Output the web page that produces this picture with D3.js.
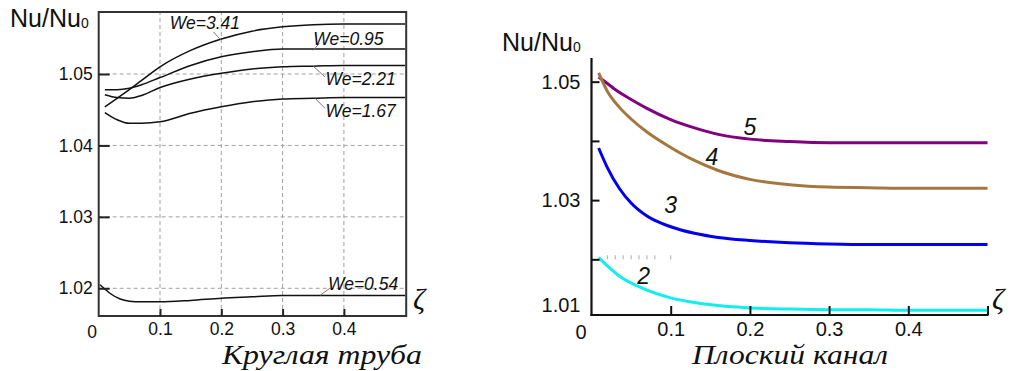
<!DOCTYPE html>
<html>
<head>
<meta charset="utf-8">
<script src="https://cdn.jsdelivr.net/npm/d3@7"></script>
<style>
  html, body { margin: 0; padding: 0; background: #fff; }
  svg { display: block; font-family: "Liberation Sans", Arial, sans-serif; }
</style>
</head>
<body>
<svg id="chart" width="1011" height="371"></svg>
<script>
// ---------- DATA ----------
// Left panel: "Круглая труба"
const leftZeta = [0.01, 0.03, 0.05, 0.07, 0.1, 0.15, 0.2, 0.25, 0.3, 0.35, 0.4, 0.5];
const we341 = [1.0454, 1.0466, 1.0478, 1.0491, 1.0510, 1.0533, 1.0549, 1.0560, 1.0566, 1.0569, 1.0570, 1.0570];
const we095 = [1.0478, 1.0478, 1.0480, 1.0485, 1.0495, 1.0512, 1.0524, 1.0531, 1.0535, 1.0535, 1.0535, 1.0535];
const we221 = [1.0471, 1.0467, 1.0466, 1.0470, 1.0481, 1.0493, 1.0501, 1.0507, 1.0510, 1.0511, 1.0512, 1.0512];
const we167 = [1.0446, 1.0436, 1.0431, 1.0431, 1.0433, 1.0445, 1.0454, 1.0461, 1.0465, 1.0466, 1.0467, 1.0467];
const we054Zeta = [0.002, 0.01, 0.02, 0.035, 0.05, 0.07, 0.1, 0.15, 0.2, 0.25, 0.3, 0.4, 0.5];
const we054 = [1.0205, 1.0199, 1.0192, 1.0185, 1.0182, 1.0181, 1.0181, 1.0183, 1.0186, 1.0188, 1.0190, 1.0190, 1.0190];
const leftYTicks = [1.02, 1.03, 1.04, 1.05];
const leftXTicks = [0, 0.1, 0.2, 0.3, 0.4];
const leftLabels = ["We=3.41", "We=0.95", "We=2.21", "We=1.67", "We=0.54"];

// Right panel: "Плоский канал"
const rightZeta = [0.009, 0.02, 0.035, 0.05, 0.07, 0.1, 0.13, 0.16, 0.2, 0.25, 0.3, 0.35, 0.4, 0.5];
const curve5 = [1.0508, 1.0497, 1.0482, 1.0470, 1.0455, 1.0436, 1.0422, 1.0411, 1.0403, 1.0399, 1.0397, 1.0397, 1.0397, 1.0397];
const curve4 = [1.0515, 1.0484, 1.0457, 1.0437, 1.0415, 1.0389, 1.0367, 1.0350, 1.0335, 1.0326, 1.0322, 1.0321, 1.0320, 1.0320];
const curve3 = [1.0388, 1.0355, 1.0320, 1.0295, 1.0273, 1.0255, 1.0244, 1.0237, 1.0232, 1.0228, 1.0226, 1.0225, 1.0225, 1.0225];
const curve2 = [1.0203, 1.0189, 1.0172, 1.0160, 1.0148, 1.0135, 1.0127, 1.0122, 1.0118, 1.0116, 1.0115, 1.0115, 1.0114, 1.0114];
const rightLabels = ["5", "4", "3", "2"];
const rightYTicks = [1.01, 1.02, 1.03, 1.04, 1.05];
const rightYTickLabels = ["1.01", "", "1.03", "", "1.05"];
const rightXTicks = [0, 0.1, 0.2, 0.3, 0.4, 0.5];
const rightXTickLabels = ["0", "0.1", "0.2", "0.3", "0.4", ""];
const minorZeta = [0.02, 0.03, 0.04, 0.05, 0.06, 0.07, 0.08, 0.1];

const SERIF = "'Liberation Serif', 'Times New Roman', serif";
const SANS = "'Liberation Sans', Arial, sans-serif";

// ---------- SCALES ----------
const svg = d3.select("#chart");
svg.append("rect").attr("width", 1011).attr("height", 371).attr("fill", "#fff");

const xL = d3.scaleLinear().domain([0, 0.5]).range([98.7, 405.2]);
const yL = d3.scaleLinear().domain([1.01612, 1.05868]).range([316, 12]);
const xR = d3.scaleLinear().domain([0, 0.5]).range([591.5, 987.5]);
const yR = d3.scaleLinear().domain([1.0106, 1.054]).range([315, 58]);

// ---------- LEFT PANEL ----------
const gL = svg.append("g");
gL.selectAll("line.vg").data([0.1, 0.2, 0.3, 0.4]).enter().append("line")
  .attr("x1", d => xL(d)).attr("x2", d => xL(d))
  .attr("y1", yL.range()[0]).attr("y2", yL.range()[1])
  .attr("stroke", "#a0a0a0").attr("stroke-width", 1).attr("stroke-dasharray", "4,3");
gL.selectAll("line.hg").data(leftYTicks).enter().append("line")
  .attr("x1", xL.range()[0]).attr("x2", xL.range()[1])
  .attr("y1", d => yL(d)).attr("y2", d => yL(d))
  .attr("stroke", "#a0a0a0").attr("stroke-width", 1).attr("stroke-dasharray", "4,3");

const lineL = (xs, ys) => d3.line().curve(d3.curveMonotoneX)
  .x((d, i) => xL(xs[i])).y(d => yL(d))(ys);
[we341, we095, we221, we167].forEach(s => {
  gL.append("path").attr("d", lineL(leftZeta, s)).attr("fill", "none")
    .attr("stroke", "#111").attr("stroke-width", 1.5);
});
gL.append("path").attr("d", lineL(we054Zeta, we054)).attr("fill", "none")
  .attr("stroke", "#111").attr("stroke-width", 1.5);

gL.append("rect").attr("x", xL.range()[0]).attr("y", yL.range()[1])
  .attr("width", xL.range()[1] - xL.range()[0] + 1).attr("height", yL.range()[0] - yL.range()[1])
  .attr("fill", "none").attr("stroke", "#333").attr("stroke-width", 2);

const axL = gL.append("g").attr("transform", `translate(${xL.range()[0]},0)`)
  .call(d3.axisLeft(yL).tickValues(leftYTicks).tickFormat(d3.format(".2f")).tickSize(-11).tickPadding(6));
const axB = gL.append("g").attr("transform", `translate(0,${yL.range()[0]})`)
  .call(d3.axisBottom(xL).tickValues(leftXTicks).tickFormat(d => d === 0 ? "0" : d3.format(".1f")(d)).tickSize(-7).tickPadding(7));
[axL, axB].forEach(a => {
  a.attr("font-family", null).attr("font-size", null);
  a.select(".domain").remove();
  a.selectAll(".tick line").attr("stroke", "#222").attr("stroke-width", 2);
  a.selectAll("text").style("font-size", "17.5px").style("font-family", SANS).attr("fill", "#111");
});
axB.selectAll(".tick").filter(d => d === 0).select("line").remove();
axB.selectAll(".tick").filter(d => d === 0).select("text").attr("x", -7).attr("dy", "0.85em");

const leftAnn = [
  { t: leftLabels[0], tx: 0.116, ty: 1.05625, lx1: 0.187, ly1: 1.0559, lx2: 0.199, ly2: 1.0548 },
  { t: leftLabels[1], tx: 0.350, ty: 1.05410, lx1: 0.350, ly1: 1.0533, lx2: 0.360, ly2: 1.0543 },
  { t: leftLabels[2], tx: 0.370, ty: 1.04850, lx1: 0.350, ly1: 1.0511, lx2: 0.369, ly2: 1.0496 },
  { t: leftLabels[3], tx: 0.370, ty: 1.04400, lx1: 0.353, ly1: 1.0466, lx2: 0.369, ly2: 1.0452 },
  { t: leftLabels[4], tx: 0.374, ty: 1.01975, lx1: 0.361, ly1: 1.0190, lx2: 0.377, ly2: 1.0200 }
];
leftAnn.forEach(a => {
  gL.append("line").attr("x1", xL(a.lx1)).attr("y1", yL(a.ly1))
    .attr("x2", xL(a.lx2)).attr("y2", yL(a.ly2))
    .attr("stroke", "#777").attr("stroke-width", 1);
  gL.append("text").attr("x", xL(a.tx)).attr("y", yL(a.ty)).attr("fill", "#111")
    .style("font-size", "17.5px").style("font-style", "italic").style("font-family", SANS).text(a.t);
});

const t1 = gL.append("text").attr("x", 10).attr("y", 27).attr("fill", "#111")
  .style("font-size", "25px").style("font-family", SANS);
t1.append("tspan").text("Nu/Nu");
t1.append("tspan").style("font-size", "14px").attr("dy", 1).text("0");
gL.append("text").attr("x", 413).attr("y", 309).attr("fill", "#111")
  .style("font-size", "30px").style("font-family", SERIF).style("font-style", "italic").text("ζ");
gL.append("text").attr("x", 222).attr("y", 364).attr("fill", "#111")
  .attr("textLength", 200).attr("lengthAdjust", "spacingAndGlyphs")
  .style("font-size", "28px").style("font-family", SERIF).style("font-style", "italic")
  .text("Круглая труба");

// ---------- RIGHT PANEL ----------
const gR = svg.append("g");
gR.selectAll("line.mt").data(minorZeta).enter().append("line")
  .attr("x1", d => xR(d)).attr("x2", d => xR(d))
  .attr("y1", yR(1.02) - 4).attr("y2", yR(1.02))
  .attr("stroke", "#aaa").attr("stroke-width", 1);

const lineR = (ys) => d3.line().curve(d3.curveMonotoneX)
  .x((d, i) => xR(rightZeta[i])).y(d => yR(d))(ys);
const rSeries = [
  { v: curve5, c: "#800080" },
  { v: curve4, c: "#a5773f" },
  { v: curve3, c: "#0000ee" },
  { v: curve2, c: "#11eeee" }
];
rSeries.forEach(s => {
  gR.append("path").attr("d", lineR(s.v)).attr("fill", "none")
    .attr("stroke", s.c).attr("stroke-width", 3);
});

const axRL = gR.append("g").attr("transform", `translate(${xR.range()[0]},0)`)
  .call(d3.axisLeft(yR).tickValues(rightYTicks).tickFormat((d, i) => rightYTickLabels[i]).tickSize(-8).tickPadding(11).tickSizeOuter(0));
const axRB = gR.append("g").attr("transform", `translate(0,${yR.range()[0]})`)
  .call(d3.axisBottom(xR).tickValues(rightXTicks).tickFormat((d, i) => rightXTickLabels[i]).tickSize(-9).tickPadding(7).tickSizeOuter(0));
[axRL, axRB].forEach(a => {
  a.select(".domain").attr("stroke", "#111").attr("stroke-width", 2.2);
  a.selectAll(".tick line").attr("stroke", "#111").attr("stroke-width", 2);
  a.selectAll("text").style("font-size", "20px").style("font-family", SANS).attr("fill", "#111");
});
axRL.select(".domain").attr("d", `M0,${yR.range()[1]}V${yR.range()[0] + 1}`);
axRB.select(".domain").attr("d", `M${xR.range()[0] - 1},0H${xR.range()[1] + 1}`);
axRL.selectAll(".tick").filter(d => d === 1.01).select("line").remove();
axRL.selectAll(".tick").filter(d => d === 1.01).select("text").attr("dy", "-0.35em");
axRB.selectAll(".tick").filter(d => d === 0).select("line").remove();
axRB.selectAll(".tick").filter(d => d === 0).select("text").attr("x", -11).attr("dy", "0.85em");

const rightAnn = [
  { t: rightLabels[0], x: 0.200, y: 1.04243 },
  { t: rightLabels[1], x: 0.152, y: 1.0373 },
  { t: rightLabels[2], x: 0.100, y: 1.02918 },
  { t: rightLabels[3], x: 0.066, y: 1.0172 }
];
rightAnn.forEach(a => {
  gR.append("text").attr("x", xR(a.x)).attr("y", yR(a.y)).attr("text-anchor", "middle")
    .attr("dy", "0.36em").attr("fill", "#111")
    .style("font-size", "23px").style("font-style", "italic").style("font-family", SANS).text(a.t);
});

const t2 = gR.append("text").attr("x", 502).attr("y", 51).attr("fill", "#111")
  .style("font-size", "25px").style("font-family", SANS);
t2.append("tspan").text("Nu/Nu");
t2.append("tspan").style("font-size", "14px").attr("dy", 1).text("0");
gR.append("text").attr("x", 992).attr("y", 309).attr("fill", "#111")
  .style("font-size", "30px").style("font-family", SERIF).style("font-style", "italic").text("ζ");
gR.append("text").attr("x", 692).attr("y", 364).attr("fill", "#111")
  .attr("textLength", 196).attr("lengthAdjust", "spacingAndGlyphs")
  .style("font-size", "28px").style("font-family", SERIF).style("font-style", "italic")
  .text("Плоский канал");
</script>
</body>
</html>
